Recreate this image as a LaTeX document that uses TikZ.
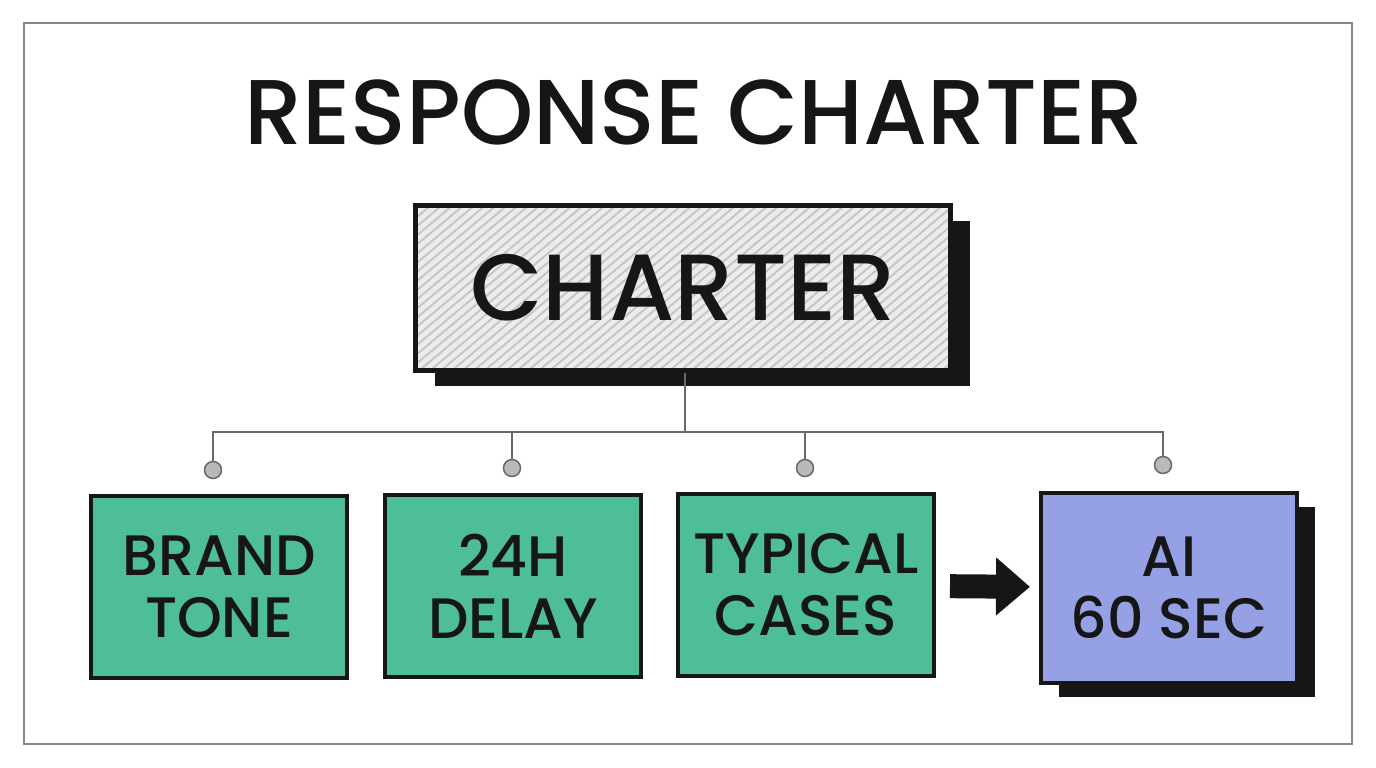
\documentclass[tikz,border=0pt]{standalone}
\usepackage{fontspec}
\setmainfont{Poppins}[UprightFont={* Medium}]
\usetikzlibrary{arrows.meta, positioning, calc, shadows, patterns.meta}
\definecolor{inkblack}{RGB}{22,22,22}
\definecolor{leafgreen}{RGB}{78,190,154}
\definecolor{aiblue}{RGB}{150,160,228}
\definecolor{paneldgray}{RGB}{236,236,236}
\definecolor{wiregray}{RGB}{105,105,105}

\begin{document}
\begin{tikzpicture}[
  x=1pt, y=-1pt,
  frame/.style={draw=wiregray!80, line width=1.6pt},
  headline/.style={font=\fontsize{92}{90}\selectfont, text=inkblack},
  rootbox/.style={draw=inkblack, line width=5pt, fill=paneldgray,
    minimum width=535pt, minimum height=165pt, inner sep=0pt,
    font=\fontsize{94}{90}\selectfont, text=inkblack,
    drop shadow={shadow xshift=19pt, shadow yshift=-15pt, fill=inkblack, opacity=1},
    postaction={pattern={Lines[angle=40, distance=7pt, line width=2pt]}, pattern color=gray!45},
    postaction={draw=inkblack, line width=5pt}},
  leaf/.style={draw=inkblack, line width=4pt, fill=leafgreen,
    minimum width=256pt, minimum height=182pt, inner sep=0pt, align=center,
    font=\fontsize{57}{62}\selectfont, text=inkblack},
  wire/.style={draw=wiregray, line width=2.2pt},
  knob/.style={circle, draw=wiregray, line width=1.5pt, fill=gray!55,
    minimum size=17pt, inner sep=0pt},
  fatarrow/.style={-{Triangle[length=34pt, width=56pt]}, line width=24pt, inkblack},
]
  \useasboundingbox (0,0) rectangle (1376,768);
  \draw[frame] (24,23) rectangle (1352,744);

  \node[headline] (title) at (694,112) {RESPONSE CHARTER};
  \node[rootbox] (charter) at (683,288) {CHARTER};

  \node[leaf] (brand) at (219,587) {BRAND\\TONE};
  \node[leaf] (delay) at (513,586) {24H\\DELAY};
  \node[leaf] (cases) at (806,585) {TYPICAL\\CASES};
  \node[leaf, fill=aiblue, minimum height=190pt,
    drop shadow={shadow xshift=18pt, shadow yshift=-14pt, fill=inkblack, opacity=1}]
    (ai) at (1169,588) {AI\\60 SEC};

  % tree wiring
  \coordinate (bus) at (685,432);
  \node[knob] (k1) at (213,470) {};
  \node[knob] (k2) at (512,468) {};
  \node[knob] (k3) at (805,468) {};
  \node[knob] (k4) at (1163,465) {};
  \draw[wire] (charter.south -| bus) -- (bus);
  \draw[wire] (k1) -- (k1 |- bus) -- (k4 |- bus) -- (k4);
  \foreach \k in {k2,k3}
    \draw[wire] (\k) -- (\k |- bus);

  \draw[fatarrow, shorten <=14pt, shorten >=9pt] (cases) -- (ai);
\end{tikzpicture}
\end{document}
